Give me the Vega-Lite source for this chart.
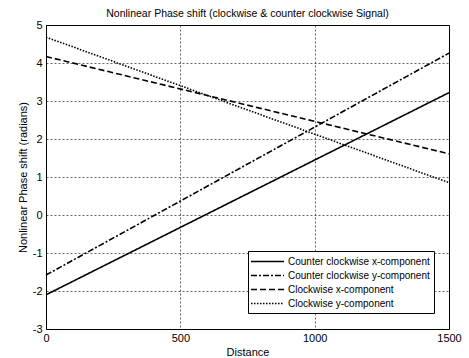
{
  "$schema": "https://vega.github.io/schema/vega-lite/v6.json",
  "width": 403,
  "height": 304,
  "autosize": "none",
  "padding": {"left": 46, "top": 25, "right": 20, "bottom": 29},
  "background": "white",
  "title": {
    "text": "Nonlinear Phase shift (clockwise & counter clockwise Signal)",
    "font": "Liberation Sans",
    "fontSize": 10.5,
    "fontWeight": "normal",
    "color": "black",
    "offset": 0
  },
  "config": {
    "view": {"stroke": "black", "strokeWidth": 1},
    "axis": {
      "labelFont": "Liberation Sans",
      "titleFont": "Liberation Sans",
      "labelFontSize": 11,
      "titleFontSize": 11,
      "titleFontWeight": "normal",
      "labelColor": "black",
      "titleColor": "black",
      "domainColor": "black",
      "ticks": false,
      "labelFlush": false,
      "gridColor": "black",
      "gridDash": [2, 2],
      "gridOpacity": 0.85,
      "gridWidth": 0.7
    }
  },
  "data": {
    "values": [
      {"series": "Counter clockwise x-component", "x": 0, "y": -2.1},
      {"series": "Counter clockwise x-component", "x": 1500, "y": 3.22},
      {"series": "Counter clockwise y-component", "x": 0, "y": -1.58},
      {"series": "Counter clockwise y-component", "x": 1500, "y": 4.26},
      {"series": "Clockwise x-component", "x": 0, "y": 4.17},
      {"series": "Clockwise x-component", "x": 1500, "y": 1.61},
      {"series": "Clockwise y-component", "x": 0, "y": 4.68},
      {"series": "Clockwise y-component", "x": 1500, "y": 0.85}
    ]
  },
  "mark": {"type": "line", "color": "black", "strokeWidth": 1.6},
  "encoding": {
    "x": {
      "field": "x",
      "type": "quantitative",
      "scale": {"domain": [0, 1500], "nice": false},
      "axis": {"values": [0, 500, 1000, 1500], "labelExpr": "'' + datum.value", "title": "Distance", "labelPadding": 3, "titlePadding": 3}
    },
    "y": {
      "field": "y",
      "type": "quantitative",
      "scale": {"domain": [-3, 5], "nice": false},
      "axis": {"values": [-3, -2, -1, 0, 1, 2, 3, 4, 5], "labelExpr": "'' + datum.value", "title": "Nonlinear Phase shift (radians)", "labelPadding": 4, "titlePadding": 4}
    },
    "strokeDash": {
      "field": "series",
      "type": "nominal",
      "scale": {
        "domain": ["Counter clockwise x-component", "Counter clockwise y-component", "Clockwise x-component", "Clockwise y-component"],
        "range": [[1, 0], [6, 2, 2, 2], [6, 3], [1.5, 1.5]]
      },
      "legend": {
        "title": null,
        "orient": "none",
        "legendX": 202,
        "legendY": 226,
        "direction": "vertical",
        "strokeColor": "black",
        "fillColor": "white",
        "padding": 4,
        "labelFont": "Liberation Sans",
        "labelFontSize": 10,
        "labelColor": "black",
        "symbolType": "M-3,0H3",
        "symbolSize": 121,
        "symbolOffset": 9,
        "symbolStrokeColor": "black",
        "symbolStrokeWidth": 1.6,
        "rowPadding": 2,
        "labelOffset": 14
      }
    }
  }
}
